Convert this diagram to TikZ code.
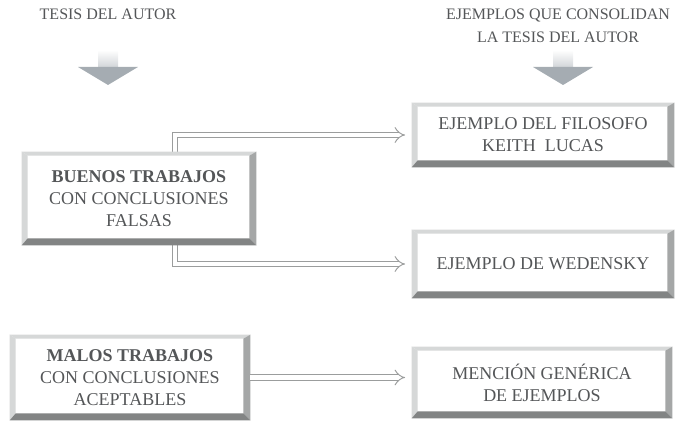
\documentclass[tikz,border=0pt]{standalone}
\usepackage{fontspec}
\setmainfont{Liberation Serif}
\usetikzlibrary{arrows.meta,backgrounds}
\definecolor{inkgray}{RGB}{84,86,88}
\definecolor{rimlight}{RGB}{214,216,216}
\definecolor{rimmid}{RGB}{165,167,167}
\definecolor{rimdark}{RGB}{130,132,132}
\definecolor{linkgray}{RGB}{155,157,157}
\definecolor{headgray}{RGB}{165,172,178}

\begin{document}
\begin{tikzpicture}[x=0.75pt,y=-0.75pt,
    card/.style={fill=white, align=center, text=inkgray, inner sep=0pt, font=\fontsize{13.5}{16.5}\selectfont},
    title/.style={align=center, text=inkgray, font=\fontsize{12}{17.5}\selectfont},
    link/.style={draw=linkgray, line width=0.7pt, double, double distance=3.5pt, -{Implies}, shorten >=5pt}]
    \useasboundingbox (0,0) rectangle (678,424);
    %column heads
    \node[title] (tesis) at (108,14) {TESIS DEL AUTOR};
    \node[title] (ejemplos) at (558,26) {EJEMPLOS QUE CONSOLIDAN\\LA TESIS DEL AUTOR};
    \foreach \x in {108,563} {\fill[top color=white, bottom color=headgray!50] (\x-10,50) rectangle (\x+10,67);}
    \foreach \x in {108,563} {\fill[headgray] (\x-30,67) -- (\x+30,67) -- (\x,85) -- cycle;}
    %boxes
    \node[card, minimum width=175.5pt, minimum height=69.75pt] (buenos) at (139,198.5) {\textbf{BUENOS TRABAJOS}\\CON CONCLUSIONES\\FALSAS};
    \node[card, minimum width=180pt, minimum height=63.75pt] (malos) at (130,377.5) {\textbf{MALOS TRABAJOS}\\CON CONCLUSIONES\\ACEPTABLES};
    \node[card, minimum width=196.5pt, minimum height=48pt] (filosofo) at (543,135) {EJEMPLO DEL FILOSOFO\\KEITH\ \ LUCAS};
    \node[card, minimum width=196.5pt, minimum height=51pt] (wedensky) at (543,264) {EJEMPLO DE WEDENSKY};
    \node[card, minimum width=195pt, minimum height=53.25pt] (mencion) at (542,382.5) {MENCIÓN GENÉRICA\\DE EJEMPLOS};
    \foreach \n in {buenos,malos,filosofo,wedensky,mencion} {
      \fill[rimlight] (\n.north west) -- (\n.north east) -- ([shift={(-7,4)}]\n.north east) -- ([shift={(6,4)}]\n.north west) -- cycle;
      \fill[rimlight] (\n.north west) -- ([shift={(6,4)}]\n.north west) -- ([shift={(6,-7)}]\n.south west) -- (\n.south west) -- cycle;
      \fill[rimmid] (\n.north east) -- (\n.south east) -- ([shift={(-7,-7)}]\n.south east) -- ([shift={(-7,4)}]\n.north east) -- cycle;
      \fill[rimdark] (\n.south west) -- (\n.south east) -- ([shift={(-7,-7)}]\n.south east) -- ([shift={(6,-7)}]\n.south west) -- cycle;
    }
    %links
    \coordinate (fork) at (175,198);
    \begin{scope}[on background layer]
      \draw[link] (fork) |- (filosofo.west);
      \draw[link] (fork) |- (wedensky.west);
    \end{scope}
    \draw[link] (malos.east) -- (malos.east -| mencion.west);
\end{tikzpicture}
\end{document}
